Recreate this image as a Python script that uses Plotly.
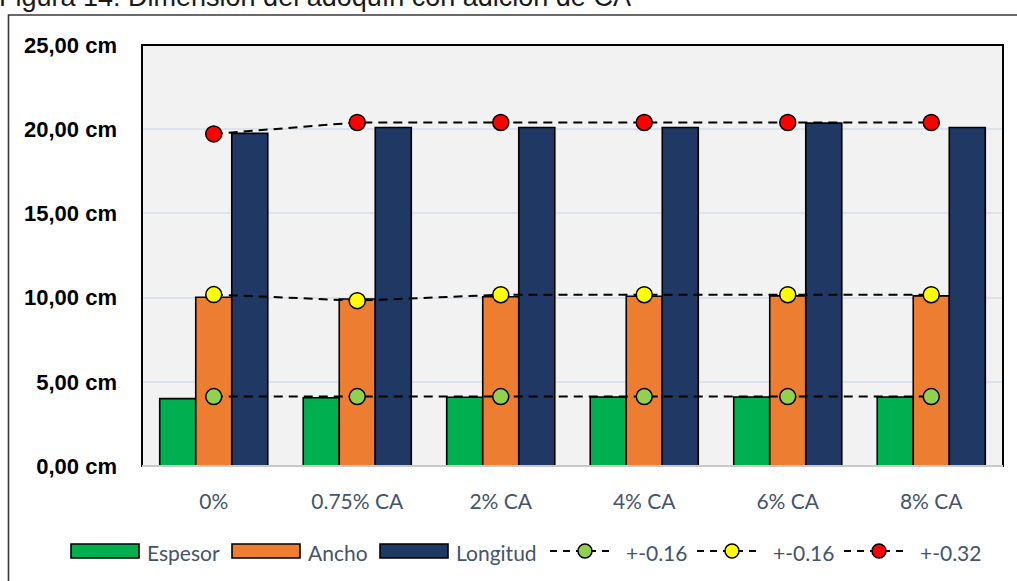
import plotly.graph_objects as go

# Data
categories = ["0%", "0.75% CA", "2% CA", "4% CA", "6% CA", "8% CA"]
espesor = [4.00, 4.05, 4.08, 4.10, 4.10, 4.10]
ancho = [10.02, 9.92, 10.05, 10.08, 10.10, 10.10]
longitud = [19.75, 20.10, 20.10, 20.10, 20.36, 20.10]
tol_espesor = [4.12, 4.12, 4.12, 4.12, 4.12, 4.12]
tol_ancho = [10.18, 9.82, 10.17, 10.17, 10.17, 10.17]
tol_longitud = [19.72, 20.40, 20.40, 20.40, 20.40, 20.40]

y_ticks = [0, 5, 10, 15, 20, 25]
y_tick_text = ["0,00 cm", "5,00 cm", "10,00 cm", "15,00 cm", "20,00 cm", "25,00 cm"]

bar_names = ["Espesor", "Ancho", "Longitud"]
bar_colors = ["#00b050", "#ed7d31", "#203864"]
tol_names = ["+-0.16", "+-0.16", "+-0.32"]
tol_colors = ["#92d050", "#ffff00", "#ff0000"]

W, H = 1017, 581
L, R, T, B = 142, 14, 45, 115
PW, PH = W - L - R, H - T - B


def px_x(px):
    return (px - L) / PW


def px_y(py):
    return (H - B - py) / PH


fig = go.Figure()

for name, vals, col in zip(bar_names, [espesor, ancho, longitud], bar_colors):
    fig.add_trace(go.Bar(
        x=categories, y=vals, name=name,
        marker=dict(color=col, line=dict(color="#000000", width=1.6)),
        showlegend=False,
    ))

for name, vals, col in zip(tol_names, [tol_espesor, tol_ancho, tol_longitud], tol_colors):
    fig.add_trace(go.Scatter(
        x=categories, y=vals, name=name, mode="lines+markers",
        line=dict(color="#000000", width=2, dash="9px,6px"),
        marker=dict(color=col, size=16, line=dict(color="#000000", width=1.5)),
        showlegend=False,
    ))

shapes = []
annotations = []

# outer frame of the chart
shapes.append(dict(type="rect", xref="paper", yref="paper",
                   x0=px_x(8.5), x1=px_x(1030), y0=px_y(15), y1=px_y(600),
                   line=dict(color="#3a3a3a", width=1.6), layer="below"))
# plot area frame
shapes.append(dict(type="rect", xref="paper", yref="paper",
                   x0=0, x1=1, y0=0, y1=1,
                   line=dict(color="#000000", width=2), layer="above"))
shapes.append(dict(type="line", xref="paper", yref="paper",
                   x0=0, x1=1, y0=0, y1=0,
                   line=dict(color="#c8c8c8", width=2), layer="above"))

# custom legend
legend_y = 551
legend_font = dict(family="Lato, Open Sans, sans-serif", size=21, color="#44546a")
rect_items = [(71, 139, 147), (232, 300, 308), (380, 448, 456)]
for (x0, x1, tx), name, col in zip(rect_items, bar_names, bar_colors):
    shapes.append(dict(type="rect", xref="paper", yref="paper",
                       x0=px_x(x0), x1=px_x(x1), y0=px_y(legend_y - 7), y1=px_y(legend_y + 7),
                       fillcolor=col, line=dict(color="#000000", width=1.6)))
    annotations.append(dict(xref="paper", yref="paper", x=px_x(tx - 2), y=px_y(legend_y + 1),
                            xanchor="left", yanchor="middle", showarrow=False,
                            text=name, font=legend_font))

line_items = [(550, 613, 585, 626), (697, 760, 732, 773), (844, 908, 879, 920)]
for (x0, x1, mx, tx), name, col in zip(line_items, tol_names, tol_colors):
    shapes.append(dict(type="line", xref="paper", yref="paper",
                       x0=px_x(x0), x1=px_x(x1), y0=px_y(legend_y), y1=px_y(legend_y),
                       line=dict(color="#000000", width=2, dash="7px,6px")))
    shapes.append(dict(type="circle", xref="paper", yref="paper",
                       x0=px_x(mx - 7), x1=px_x(mx + 7), y0=px_y(legend_y - 7), y1=px_y(legend_y + 7),
                       fillcolor=col, line=dict(color="#000000", width=1.5)))
    annotations.append(dict(xref="paper", yref="paper", x=px_x(tx - 2), y=px_y(legend_y + 1),
                            xanchor="left", yanchor="middle", showarrow=False,
                            text=name, font=legend_font))

# figure caption above the chart frame
annotations.append(dict(xref="paper", yref="paper", x=px_x(-3), y=px_y(14),
                        xanchor="left", yanchor="bottom", showarrow=False,
                        text="Figura 14: Dimensión del adoquín con adición de CA",
                        font=dict(family="Liberation Sans, Arial, sans-serif", size=27, color="#1a1a1a")))

fig.update_layout(
    width=W, height=H,
    margin=dict(l=L, r=R, t=T, b=B, pad=0),
    paper_bgcolor="#ffffff",
    plot_bgcolor="#f2f2f2",
    barmode="group",
    bargap=0.247,
    bargroupgap=0,
    shapes=shapes,
    annotations=annotations,
    xaxis=dict(
        type="category",
        showgrid=False, showline=False, zeroline=False,
        ticks="", ticklabelstandoff=21,
        tickfont=dict(family="Lato, Open Sans, sans-serif", size=21, color="#44546a"),
    ),
    yaxis=dict(
        range=[0, 25],
        tickvals=y_ticks, ticktext=y_tick_text,
        showgrid=True, gridcolor="#dde3ea", gridwidth=1.5,
        zeroline=False, showline=False, ticks="", ticklabelstandoff=24,
        tickfont=dict(family="Liberation Sans, Arial, sans-serif", size=22, color="#000000", weight="bold"),
    ),
)

fig.write_html("out.html")
